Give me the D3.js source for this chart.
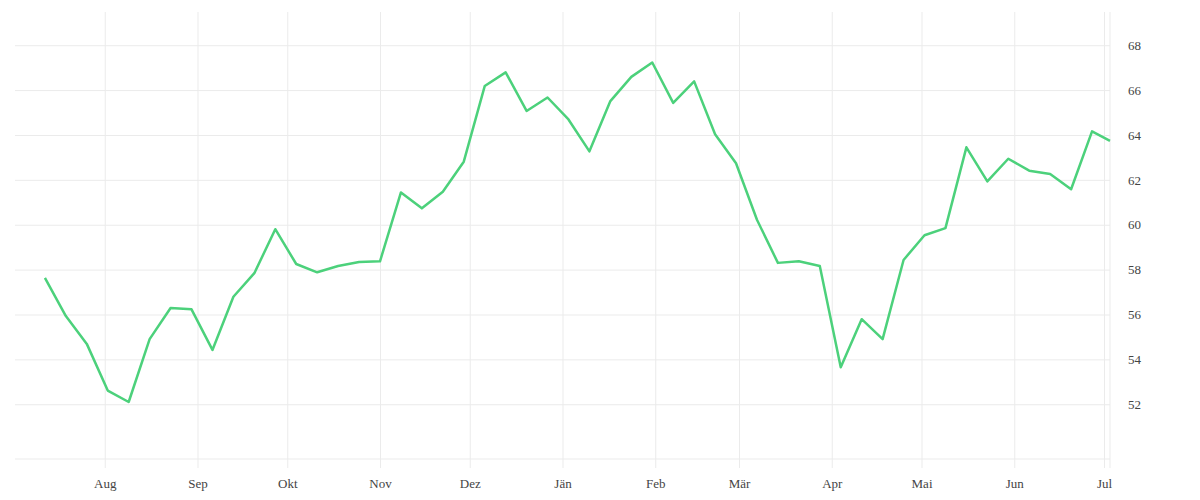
<!DOCTYPE html>
<html>
<head>
<meta charset="utf-8">
<script src="https://cdn.jsdelivr.net/npm/d3@7"></script>
<style>
  body { margin: 0; background: #fff; }
  .grid line { stroke: #ebebeb; stroke-width: 1; }
  .axis text { fill: #444; font-size: 13px; font-family: "Liberation Serif", serif; }
  .chart-line { fill: none; stroke: #4cd17b; stroke-width: 2.5; stroke-linejoin: round; }
</style>
</head>
<body>
<svg id="chart" width="1200" height="500"></svg>
<script>
const DATES = [
  "2022-07-12", "2022-07-19", "2022-07-26", "2022-08-02", "2022-08-09",
  "2022-08-16", "2022-08-23", "2022-08-30", "2022-09-06", "2022-09-13",
  "2022-09-20", "2022-09-27", "2022-10-04", "2022-10-11", "2022-10-18",
  "2022-10-25", "2022-11-01", "2022-11-08", "2022-11-15", "2022-11-22",
  "2022-11-29", "2022-12-06", "2022-12-13", "2022-12-20", "2022-12-27",
  "2023-01-03", "2023-01-10", "2023-01-17", "2023-01-24", "2023-01-31",
  "2023-02-07", "2023-02-14", "2023-02-21", "2023-02-28", "2023-03-07",
  "2023-03-14", "2023-03-21", "2023-03-28", "2023-04-04", "2023-04-11",
  "2023-04-18", "2023-04-25", "2023-05-02", "2023-05-09", "2023-05-16",
  "2023-05-23", "2023-05-30", "2023-06-06", "2023-06-13", "2023-06-20",
  "2023-06-27", "2023-07-03"
];

const VALUES = [
  57.63, 55.93, 54.69, 52.61, 52.10, 54.90, 56.29, 56.23, 54.42, 56.79,
  57.84, 59.80, 58.25, 57.88, 58.16, 58.34, 58.37, 61.44, 60.73, 61.47,
  62.81, 66.18, 66.79, 65.07, 65.67, 64.69, 63.27, 65.51, 66.59, 67.23,
  65.43, 66.39, 64.03, 62.74, 60.22, 58.30, 58.37, 58.16, 53.65, 55.79,
  54.90, 58.43, 59.53, 59.85, 63.45, 61.93, 62.94, 62.41, 62.26, 61.58,
  64.16, 63.74
];

// Austrian month names, January first
const MONTH_LABELS = ["Jän", "Feb", "Mär", "Apr", "Mai", "Jun", "Jul", "Aug", "Sep", "Okt", "Nov", "Dez"];
const Y_TICKS = [52, 54, 56, 58, 60, 62, 64, 66, 68];
const X_DOMAIN = ["2022-07-02", "2023-07-03"];
const Y_DOMAIN = [49.56, 69.48];

const DIMS = { LEFT: 15, RIGHT: 1110, TOP: 12, BOTTOM: 459, TICK_BOTTOM: 468 };

class LineChart {
  constructor({ el }) {
    this.el = el;
    this.init();
  }

  init() {
    const parse = d3.utcParse("%Y-%m-%d");
    this.data = DATES.map((d, i) => ({ date: parse(d), value: VALUES[i] }));

    this.x = d3.scaleUtc()
      .domain(X_DOMAIN.map(parse))
      .range([DIMS.LEFT, DIMS.RIGHT]);

    this.y = d3.scaleLinear()
      .domain(Y_DOMAIN)
      .range([DIMS.BOTTOM, DIMS.TOP]);

    this.svg = d3.select(this.el);
  }

  render() {
    const { x, y, svg } = this;

    // y gridlines + labels on the right
    svg.append("g")
      .attr("class", "axis grid")
      .attr("transform", `translate(${DIMS.RIGHT},0)`)
      .call(
        d3.axisRight(y)
          .tickValues(Y_TICKS)
          .tickSize(-(DIMS.RIGHT - DIMS.LEFT))
          .tickPadding(18)
          .tickFormat(d3.format("d"))
      )
      .call((g) => g.select(".domain").remove());

    // month gridlines + labels
    const months = d3.utcMonth.range(d3.utcMonth.ceil(x.domain()[0]), x.domain()[1]);
    svg.append("g")
      .attr("class", "axis grid")
      .attr("transform", `translate(0,${DIMS.TICK_BOTTOM})`)
      .call(
        d3.axisBottom(x)
          .tickValues(months)
          .tickSize(-(DIMS.TICK_BOTTOM - DIMS.TOP))
          .tickPadding(11)
          .tickFormat((d) => MONTH_LABELS[d.getUTCMonth()])
      )
      .call((g) => g.select(".domain").remove());

    // base line and right edge
    const frame = svg.append("g").attr("class", "grid");
    frame.append("line")
      .attr("x1", DIMS.LEFT).attr("x2", DIMS.RIGHT)
      .attr("y1", y.range()[0]).attr("y2", y.range()[0]);
    frame.append("line")
      .attr("x1", DIMS.RIGHT).attr("x2", DIMS.RIGHT)
      .attr("y1", DIMS.TOP).attr("y2", DIMS.TICK_BOTTOM);

    const line = d3.line()
      .x((d) => x(d.date))
      .y((d) => y(d.value));

    svg.append("path")
      .datum(this.data)
      .attr("class", "chart-line")
      .attr("d", line);
  }
}

const chart = new LineChart({ el: "#chart" });
chart.render();
</script>
</body>
</html>
